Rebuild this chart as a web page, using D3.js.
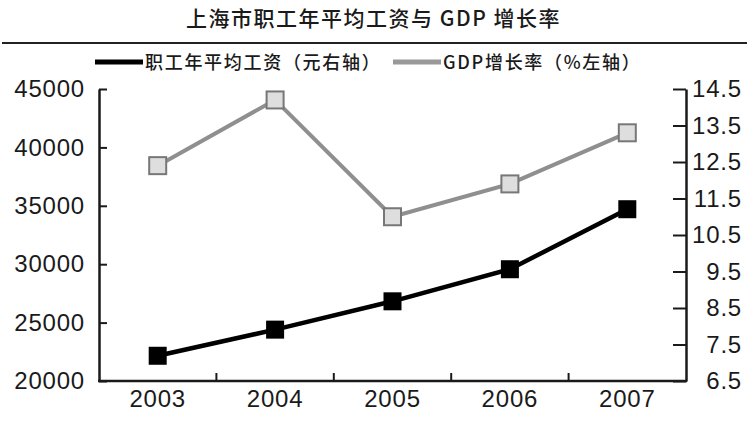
<!DOCTYPE html>
<html>
<head>
<meta charset="utf-8">
<script src="https://cdn.jsdelivr.net/npm/d3@7"></script>
<style>
  body { margin: 0; background: #fff; }
  svg { display: block; }
</style>
</head>
<body>
<div id="chart"></div>
<script>
const years = ["2003", "2004", "2005", "2006", "2007"];
const wages = [22160, 24398, 26823, 29569, 34707];
const gdpGrowth = [12.4, 14.2, 11.0, 11.9, 13.3];
const wageTicks = [20000, 25000, 30000, 35000, 40000, 45000];
const gdpTicks = [6.5, 7.5, 8.5, 9.5, 10.5, 11.5, 12.5, 13.5, 14.5];

const width = 747;
const height = 421;
const plotLeft = 99, plotRight = 686, plotTop = 89, plotBottom = 381;

const svg = d3.select("#chart").append("svg")
  .attr("width", width)
  .attr("height", height);

// Title and rule under it
svg.append("text")
  .attr("x", width / 2)
  .attr("y", 26)
  .attr("text-anchor", "middle")
  .attr("font-family", "Noto Sans CJK SC")
  .attr("font-size", "21px")
  .attr("font-weight", 500)
  .attr("letter-spacing", "1.5px")
  .attr("fill", "#1a1a1a")
  .text("上海市职工年平均工资与 GDP 增长率");

svg.append("line")
  .attr("x1", 2).attr("x2", width)
  .attr("y1", 43).attr("y2", 43)
  .attr("stroke", "#222")
  .attr("stroke-width", 2);

// Legend
const legend = [
  { label: "职工年平均工资（元右轴）", color: "#000", x: 95 },
  { label: "GDP增长率（%左轴）", color: "#999", x: 393 }
];
legend.forEach(d => {
  svg.append("line")
    .attr("x1", d.x).attr("x2", d.x + 48)
    .attr("y1", 62).attr("y2", 62)
    .attr("stroke", d.color)
    .attr("stroke-width", 5);
  svg.append("text")
    .attr("x", d.x + 50)
    .attr("y", 69)
    .attr("font-family", "Noto Sans CJK SC")
    .attr("font-size", "18px")
    .attr("font-weight", 500)
    .attr("letter-spacing", "1.7px")
    .attr("fill", "#1a1a1a")
    .text(d.label);
});

// Scales
const x = d3.scaleBand().domain(years).range([plotLeft, plotRight]);
const yWage = d3.scaleLinear().domain([20000, 45000]).range([plotBottom, plotTop]);
const yGdp = d3.scaleLinear().domain([6.5, 14.5]).range([plotBottom, plotTop]);
const cx = d => x(d) + x.bandwidth() / 2;

const fontNum = "Liberation Sans, Arial, sans-serif";

// Left axis
const gLeft = svg.append("g")
  .attr("transform", `translate(${plotLeft},0)`)
  .call(d3.axisLeft(yWage).tickValues(wageTicks).tickSizeInner(-8).tickSizeOuter(0).tickPadding(14).tickFormat(d3.format("d")));

// Right axis
const gRight = svg.append("g")
  .attr("transform", `translate(${plotRight},0)`)
  .call(d3.axisRight(yGdp).tickValues(gdpTicks).tickSizeInner(-13).tickSizeOuter(0).tickFormat(d3.format(".1f")));
gRight.selectAll("text").attr("x", 56).attr("text-anchor", "end");

// Bottom axis: labels at band centres, ticks at band edges
const gBottom = svg.append("g")
  .attr("transform", `translate(0,${plotBottom})`)
  .call(d3.axisBottom(x).tickSize(0).tickPadding(9));
gBottom.select(".domain").remove();
gBottom.selectAll(".tick").filter((d, i) => i > 0).append("line")
  .attr("x1", -x.bandwidth() / 2).attr("x2", -x.bandwidth() / 2)
  .attr("y1", 0).attr("y2", -8);

svg.append("line")
  .attr("x1", plotLeft - 1).attr("x2", plotRight + 1)
  .attr("y1", plotBottom).attr("y2", plotBottom)
  .attr("stroke", "#1a1a1a").attr("stroke-width", 2.5);

[gLeft, gRight, gBottom].forEach(g => {
  g.selectAll(".domain").attr("stroke", "#1a1a1a").attr("stroke-width", 2.5);
  g.selectAll(".tick line").attr("stroke", "#1a1a1a").attr("stroke-width", 2);
  g.selectAll("text")
    .attr("font-family", fontNum)
    .attr("font-size", "24px")
    .attr("letter-spacing", "0.8px")
    .attr("fill", "#1a1a1a");
});
gBottom.selectAll("text").attr("dy", "0.71em");

// GDP line
const gdpData = years.map((y, i) => ({ year: y, v: gdpGrowth[i] }));
svg.append("path")
  .datum(gdpData)
  .attr("fill", "none")
  .attr("stroke", "#8f8f8f")
  .attr("stroke-width", 4)
  .attr("d", d3.line().x(d => cx(d.year)).y(d => yGdp(d.v)));
svg.selectAll(".gdp-mark")
  .data(gdpData)
  .join("rect")
  .attr("x", d => cx(d.year) - 8.5)
  .attr("y", d => yGdp(d.v) - 8.5)
  .attr("width", 17).attr("height", 17)
  .attr("fill", "#dedede")
  .attr("stroke", "#777")
  .attr("stroke-width", 2);

// Wage line
const wageData = years.map((y, i) => ({ year: y, v: wages[i] }));
svg.append("path")
  .datum(wageData)
  .attr("fill", "none")
  .attr("stroke", "#000")
  .attr("stroke-width", 4.5)
  .attr("d", d3.line().x(d => cx(d.year)).y(d => yWage(d.v)));
svg.selectAll(".wage-mark")
  .data(wageData)
  .join("rect")
  .attr("x", d => cx(d.year) - 9)
  .attr("y", d => yWage(d.v) - 9)
  .attr("width", 18).attr("height", 18)
  .attr("fill", "#000");
</script>
</body>
</html>
